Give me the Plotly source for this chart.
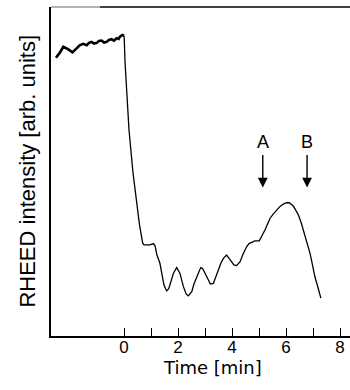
import plotly.graph_objects as go

# RHEED intensity trace (time in min, intensity in arb. units)
t_pre = [-2.52, -2.37, -2.25, -2.15, -2.06, -1.91, -1.75, -1.63, -1.51, -1.38,
         -1.30, -1.20, -1.11, -1.01, -0.93, -0.83, -0.74, -0.64, -0.56, -0.46,
         -0.37, -0.27, -0.20, -0.15, -0.06, 0.00]
i_pre = [0.846, 0.862, 0.879, 0.875, 0.871, 0.862, 0.874, 0.884, 0.888, 0.884,
         0.891, 0.894, 0.889, 0.891, 0.897, 0.898, 0.892, 0.894, 0.900, 0.902,
         0.898, 0.905, 0.903, 0.910, 0.915, 0.912]

t_post = [0.00, 0.01, 0.04, 0.10, 0.185, 0.33, 0.46, 0.57, 0.69, 0.74, 0.96, 1.09,
          1.15, 1.22, 1.33, 1.41, 1.48, 1.58, 1.65, 1.70, 1.83, 1.95, 2.07, 2.20,
          2.30, 2.38, 2.51, 2.59, 2.69, 2.84, 2.91, 3.00, 3.11, 3.20, 3.31, 3.41,
          3.49, 3.59, 3.68, 3.80, 3.89, 3.99, 4.07, 4.17, 4.30, 4.41, 4.54, 4.63,
          4.73, 4.85, 5.01, 5.11, 5.22, 5.33, 5.41, 5.54, 5.66, 5.78, 5.90, 6.02,
          6.12, 6.20, 6.27, 6.37, 6.46, 6.56, 6.64, 6.77, 6.89, 6.98, 7.07, 7.19,
          7.29]
i_post = [0.912, 0.900, 0.829, 0.727, 0.626, 0.498, 0.404, 0.340, 0.283, 0.277, 0.277, 0.281,
          0.274, 0.246, 0.221, 0.185, 0.155, 0.137, 0.143, 0.155, 0.191, 0.208, 0.191, 0.150,
          0.128, 0.122, 0.135, 0.158, 0.180, 0.208, 0.205, 0.191, 0.170, 0.158, 0.160, 0.182,
          0.201, 0.222, 0.236, 0.246, 0.236, 0.226, 0.216, 0.214, 0.226, 0.249, 0.271, 0.281,
          0.284, 0.289, 0.289, 0.304, 0.322, 0.343, 0.358, 0.372, 0.383, 0.394, 0.401, 0.405,
          0.405, 0.401, 0.395, 0.381, 0.368, 0.345, 0.322, 0.287, 0.251, 0.216, 0.180, 0.146,
          0.115]

tick_vals = [0, 1, 2, 3, 4, 5, 6, 7, 8]
tick_text = ["0", "", "2", "", "4", "", "6", "", "8"]

arrow_times = [5.14, 6.78]
arrow_labels = ["A", "B"]

fig = go.Figure()
fig.add_trace(go.Scatter(x=t_pre, y=i_pre, mode="lines",
                         line=dict(color="black", width=2.6), hoverinfo="skip"))
fig.add_trace(go.Scatter(x=t_post, y=i_post, mode="lines",
                         line=dict(color="black", width=1.3), hoverinfo="skip"))

annotations = []
for t, lab in zip(arrow_times, arrow_labels):
    annotations.append(dict(x=t, y=0.451, ax=t, ay=0.555, axref="x", ayref="y",
                            xref="x", yref="y", text="", showarrow=True,
                            arrowhead=2, arrowsize=1.4, arrowwidth=1.4,
                            arrowcolor="black", standoff=0, startstandoff=0))
    annotations.append(dict(x=t, y=0.5906, xref="x", yref="y", text=lab,
                            showarrow=False, xanchor="center", yanchor="middle",
                            font=dict(family="Liberation Sans, Arial", size=18, color="black")))

annotations.append(dict(x=0.540, y=-0.096, xref="paper", yref="paper",
                        text="Time [min]", showarrow=False, xanchor="center", yanchor="middle",
                        font=dict(family="DejaVu Sans", size=18, color="black")))
annotations.append(dict(x=-0.080, y=0.5, xref="paper", yref="paper",
                        text="RHEED intensity [arb. units]", showarrow=False,
                        textangle=-90, xanchor="center", yanchor="middle",
                        font=dict(family="Liberation Sans, Arial", size=22, color="black")))

fig.update_layout(
    width=350, height=390,
    margin=dict(l=51, r=0, t=7, b=54),
    paper_bgcolor="white", plot_bgcolor="white",
    showlegend=False,
    annotations=annotations,
    shapes=[
        dict(type="line", xref="paper", yref="paper", x0=0, x1=0.164, y0=1, y1=1,
             line=dict(color="#999999", width=1.6)),
        dict(type="line", xref="paper", yref="paper", x0=0.164, x1=1, y0=1, y1=1,
             line=dict(color="black", width=1.6)),
    ],
)
fig.update_xaxes(range=[-2.704, 8.37], showgrid=False, zeroline=False,
                 showline=True, linecolor="black", linewidth=2,
                 ticks="inside", ticklen=8, tickwidth=1.3, tickcolor="black",
                 tickvals=tick_vals, ticktext=tick_text, ticklabelstandoff=-5,
                 tickfont=dict(family="Liberation Sans, Arial", size=17, color="black"))
fig.update_yaxes(range=[0, 1], showgrid=False, zeroline=False,
                 showline=True, linecolor="black", linewidth=2,
                 showticklabels=False, ticks="")

fig.write_html("out.html", config={"displayModeBar": False},
               post_script="document.body.style.margin='0';document.body.style.overflow='hidden';")
